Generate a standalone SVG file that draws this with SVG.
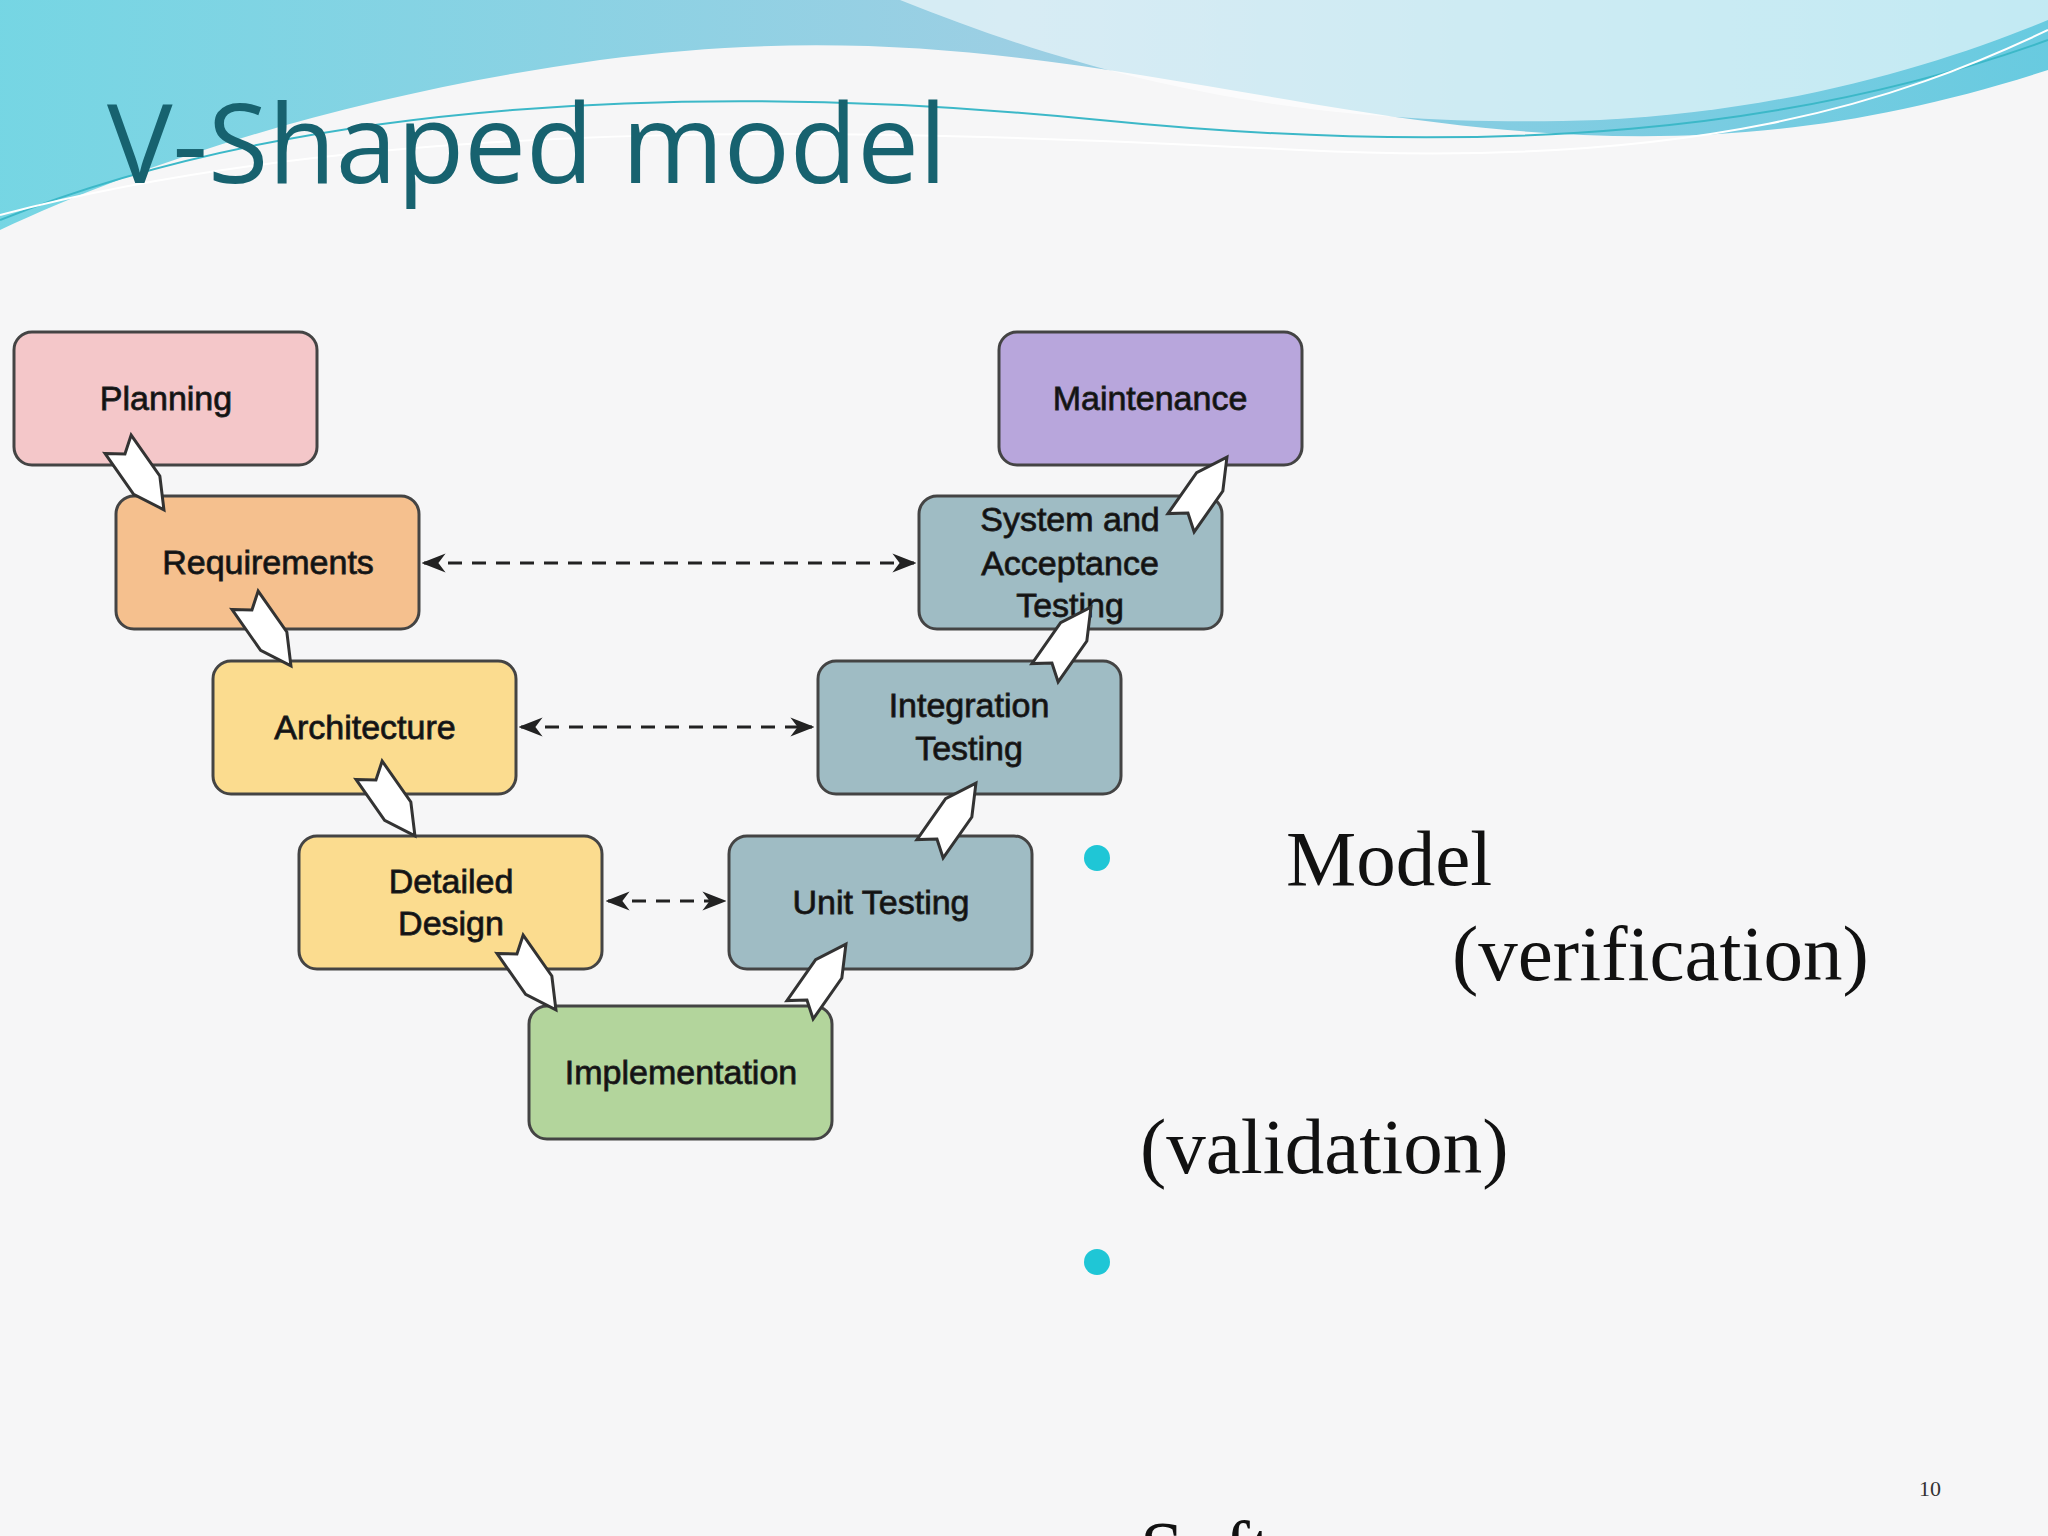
<svg xmlns="http://www.w3.org/2000/svg" width="2048" height="1536" viewBox="0 0 2048 1536">
<defs>
<linearGradient id="wave" x1="0" y1="0" x2="1" y2="0">
<stop offset="0" stop-color="#5fd0e0"/><stop offset="0.5" stop-color="#8cc8e0"/><stop offset="1" stop-color="#4fc3dc"/>
</linearGradient>
<marker id="ah" viewBox="0 0 10 10" refX="9" refY="5" markerWidth="8" markerHeight="8" orient="auto-start-reverse"><path d="M0,1 L10,5 L0,9 L3,5 z" fill="#222"/></marker>
<path id="blk" d="M-16,-40 L0,-28 L16,-40 L16,10 L0,40 L-16,10 Z"/>
<style>
.box{stroke:#444;stroke-width:3}
.lbl{font-family:"Liberation Sans",Arial,sans-serif;font-size:34px;fill:#111;text-anchor:middle;stroke:#222;stroke-width:0.8}
.dash{stroke:#222;stroke-width:3;stroke-dasharray:14 10;fill:none}
.blk{fill:#fff;stroke:#333;stroke-width:3}
.body{font-family:"Liberation Serif","Times New Roman",serif;font-size:79px;fill:#111}
</style>
</defs>
<rect width="2048" height="1536" fill="#f6f6f7"/>
<path d="M0,0 H2048 V70 C1800,150 1600,150 1350,110 C1100,70 900,20 600,60 C350,95 150,160 0,230 Z" fill="url(#wave)" opacity="0.85"/>
<path d="M900,0 C1100,80 1300,130 1600,120 C1800,110 1950,60 2048,20 V0 Z" fill="#ffffff" opacity="0.6"/>
<path d="M0,220 C300,100 700,80 1100,120 C1500,160 1800,130 2048,40" fill="none" stroke="#3cb8c8" stroke-width="2"/>
<path d="M0,215 C400,110 900,130 1300,150 C1700,170 1900,100 2048,30" fill="none" stroke="#ffffff" stroke-width="2"/>
<text x="107" y="183" font-family="'Open Sans','Liberation Sans',sans-serif" font-size="110" fill="#17626f">V-Shaped model</text>
<g id="connectors">
<line class="dash" x1="424" y1="563" x2="914" y2="563" marker-start="url(#ah)" marker-end="url(#ah)"/>
<line class="dash" x1="521" y1="727" x2="812" y2="727" marker-start="url(#ah)" marker-end="url(#ah)"/>
<line class="dash" x1="608" y1="901" x2="724" y2="901" marker-start="url(#ah)" marker-end="url(#ah)"/>
</g>
<g id="planning"><rect class="box" x="14" y="332" width="303" height="133" rx="18" fill="#f4c7c9"/><text class="lbl" x="166" y="410">Planning</text></g>
<g id="requirements"><rect class="box" x="116" y="496" width="303" height="133" rx="18" fill="#f5c08e"/><text class="lbl" x="268" y="574">Requirements</text></g>
<g id="architecture"><rect class="box" x="213" y="661" width="303" height="133" rx="18" fill="#fbdc8f"/><text class="lbl" x="365" y="739">Architecture</text></g>
<g id="detailed"><rect class="box" x="299" y="836" width="303" height="133" rx="18" fill="#fbdc8f"/><text class="lbl" x="451" y="893">Detailed</text><text class="lbl" x="451" y="935">Design</text></g>
<g id="implementation"><rect class="box" x="529" y="1006" width="303" height="133" rx="18" fill="#b3d59c"/><text class="lbl" x="681" y="1084">Implementation</text></g>
<g id="unit"><rect class="box" x="729" y="836" width="303" height="133" rx="18" fill="#9fbcc4"/><text class="lbl" x="881" y="914">Unit Testing</text></g>
<g id="integration"><rect class="box" x="818" y="661" width="303" height="133" rx="18" fill="#9fbcc4"/><text class="lbl" x="969" y="717">Integration</text><text class="lbl" x="969" y="760">Testing</text></g>
<g id="system"><rect class="box" x="919" y="496" width="303" height="133" rx="18" fill="#9fbcc4"/><text class="lbl" x="1070" y="531">System and</text><text class="lbl" x="1070" y="575">Acceptance</text><text class="lbl" x="1070" y="617">Testing</text></g>
<g id="maintenance"><rect class="box" x="999" y="332" width="303" height="133" rx="18" fill="#b8a6dc"/><text class="lbl" x="1150" y="410">Maintenance</text></g>
<g id="blockarrows">
<use href="#blk" class="blk" transform="translate(141,477) rotate(-35)"/>
<use href="#blk" class="blk" transform="translate(268,633) rotate(-35)"/>
<use href="#blk" class="blk" transform="translate(392,803) rotate(-35)"/>
<use href="#blk" class="blk" transform="translate(533,977) rotate(-35)"/>
<use href="#blk" class="blk" transform="translate(823,977) rotate(215)"/>
<use href="#blk" class="blk" transform="translate(953,816) rotate(215)"/>
<use href="#blk" class="blk" transform="translate(1068,640) rotate(215)"/>
<use href="#blk" class="blk" transform="translate(1204,490) rotate(215)"/>
</g>
<circle cx="1097" cy="858" r="13" fill="#1fc6d6"/>
<circle cx="1097" cy="1262" r="13" fill="#1fc6d6"/>
<text class="body" x="1286" y="885">Model</text>
<text class="body" x="1452" y="980">(verification)</text>
<text class="body" x="1140" y="1173">(validation)</text>
<text class="body" x="1140" y="1575">Soft</text>
<text x="1930" y="1496" font-family="'Liberation Serif',serif" font-size="22" fill="#333" text-anchor="middle">10</text>
</svg>
